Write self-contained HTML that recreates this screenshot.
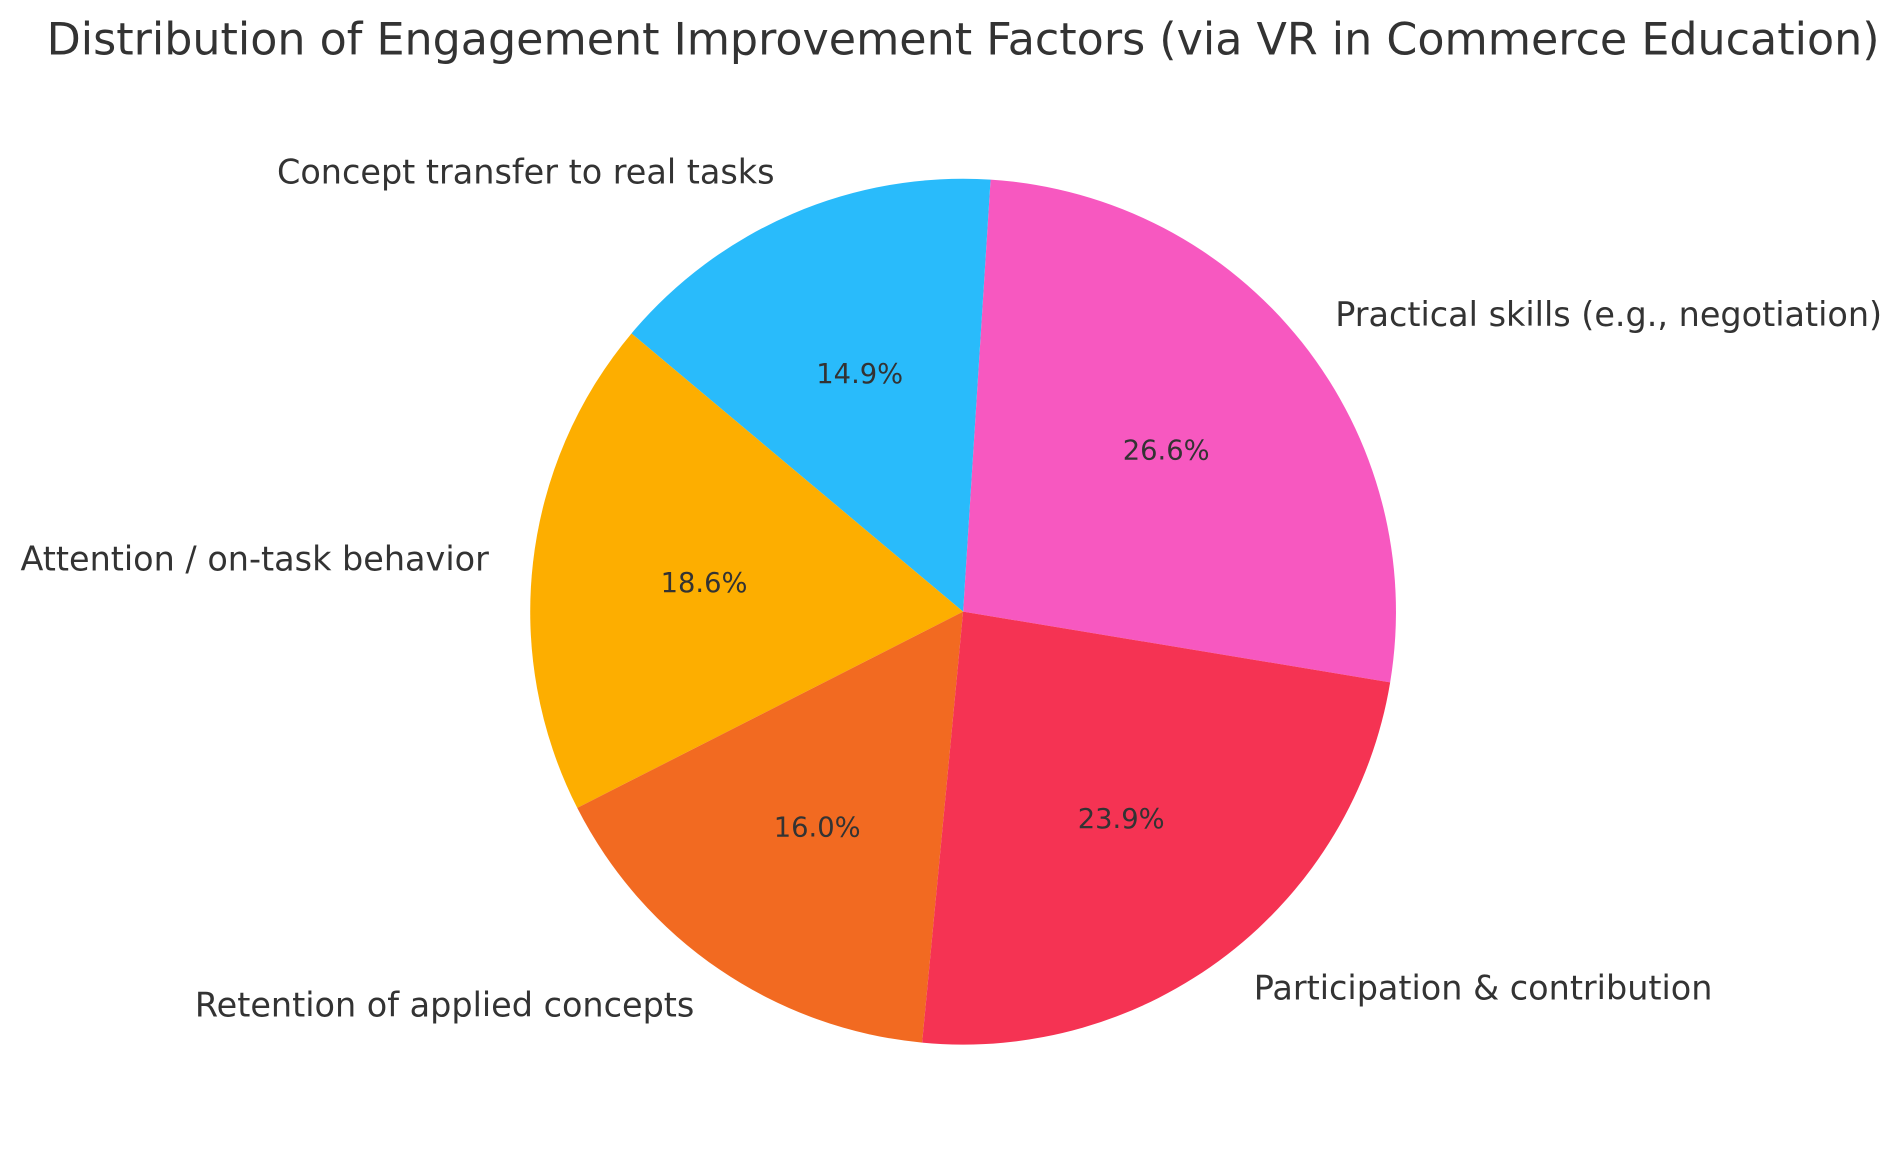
<!DOCTYPE html>
<html><head><meta charset="utf-8"><style>
html,body{margin:0;padding:0;background:#fff;width:1897px;height:1168px;overflow:hidden}
svg{display:block}
text{font-family:"DejaVu Sans","Liberation Sans",sans-serif;fill:#333}
</style></head><body>
<svg width="1897" height="1168" viewBox="0 0 1560 960.5" xmlns="http://www.w3.org/2000/svg">
<rect width="1560" height="961" fill="#fff"/>
<path d="M792,503 L1143.2,561.1 A356,356 0 0 0 814.6,147.7 Z" fill="#F758C0"/>
<path d="M792,503 L814.6,147.7 A356,356 0 0 0 519.3,274.2 Z" fill="#29BBFB"/>
<path d="M792,503 L519.3,274.2 A356,356 0 0 0 474.7,664.4 Z" fill="#FDAE00"/>
<path d="M792,503 L474.7,664.4 A356,356 0 0 0 758.3,857.4 Z" fill="#F26A21"/>
<path d="M792,503 L758.3,857.4 A356,356 0 0 0 1143.2,561.1 Z" fill="#F53353"/>
<text x="792" y="45" font-size="36.5" text-anchor="middle">Distribution of Engagement Improvement Factors (via VR in Commerce Education)</text>
<g font-size="27.5">
<text x="1098" y="268">Practical skills (e.g., negotiation)</text>
<text x="637" y="151" text-anchor="end">Concept transfer to real tasks</text>
<text x="402" y="469" text-anchor="end">Attention / on-task behavior</text>
<text x="571" y="836" text-anchor="end">Retention of applied concepts</text>
<text x="1031" y="822">Participation &amp; contribution</text>
</g>
<g font-size="22.5" text-anchor="middle">
<text x="959" y="378">26.6%</text>
<text x="707" y="315">14.9%</text>
<text x="579" y="487">18.6%</text>
<text x="672" y="688">16.0%</text>
<text x="922" y="681">23.9%</text>
</g>
</svg>
</body></html>
